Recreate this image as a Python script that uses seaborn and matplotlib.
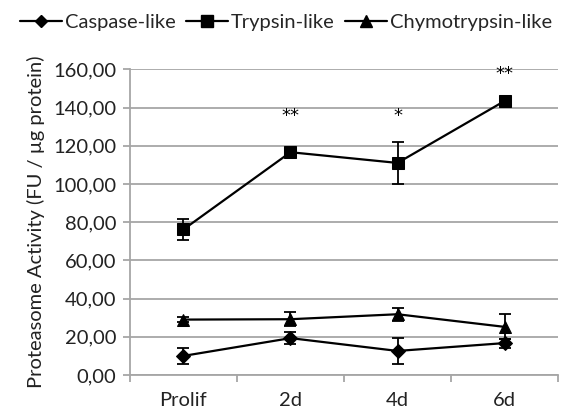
import numpy as np
import pandas as pd
import matplotlib
matplotlib.use('Agg')
import matplotlib.pyplot as plt
import seaborn as sns
from matplotlib.ticker import FixedLocator, FuncFormatter

# values
stages = ['Prolif', '2d', '4d', '6d']
caspase = [10.0, 19.3, 12.6, 16.7]
caspase_err = [4.2, 3.0, 6.6, 2.4]
trypsin = [76.2, 116.6, 111.0, 143.4]
trypsin_err = [5.6, 1.5, 10.8, 1.5]
chymo = [29.0, 29.2, 31.8, 25.2]
chymo_err = [1.5, 3.8, 3.5, 6.6]
stars = ['', '**', '*', '**']
star_y = [0, 135.5, 135.5, 157.5]

series = ['Caspase-like', 'Trypsin-like', 'Chymotrypsin-like']
vals = [caspase, trypsin, chymo]
errs = [caspase_err, trypsin_err, chymo_err]

x = np.arange(len(stages))
df = pd.DataFrame({
    'x': np.tile(x, 3),
    'value': caspase + trypsin + chymo,
    'series': np.repeat(series, len(stages)),
})

sns.set_style('white')
plt.rcParams['font.family'] = ['Lato', 'DejaVu Sans']

fs = 14.5
txt = '#222222'
fig = plt.figure(figsize=(5.61, 4.19), dpi=100)
ax = fig.add_axes([0.2317, 0.105, 0.763, 0.7296])

grid_col = '#a6a6a6'
for v, e in zip(vals, errs):
    ax.errorbar(x, v, yerr=e, fmt='none', ecolor='black', elinewidth=1.3,
                capsize=4.5, capthick=1.3, zorder=2)

markers = {'Caspase-like': 'D', 'Trypsin-like': 's', 'Chymotrypsin-like': '^'}
sizes = {'Caspase-like': 7, 'Trypsin-like': 9, 'Chymotrypsin-like': 9}
for name in series:
    sub = df[df['series'] == name]
    sns.lineplot(data=sub, x='x', y='value', ax=ax, color='black', linewidth=1.6,
                 marker=markers[name], markersize=sizes[name], markeredgecolor='black',
                 label=name, zorder=3, legend=False)

# significance marks
for xi, s, sy in zip(x, stars, star_y):
    if s:
        ax.text(xi, sy, s, ha='center', va='center', fontsize=13, color='black',
                family='DejaVu Sans')

ax.set_xlim(-0.5, len(stages) - 0.5)
ax.set_ylim(0, 160)
ax.set_yticks(np.arange(0, 161, 20))
ax.yaxis.set_major_formatter(FuncFormatter(lambda v, p: f'{v:.2f}'.replace('.', ',')))
ax.set_xticks(x)
ax.set_xticklabels(stages)
ax.xaxis.set_minor_locator(FixedLocator(np.append(x + 0.5, -0.5)))

ax.yaxis.grid(True, color=grid_col, linewidth=1.3)
ax.set_axisbelow(True)
for sp in ['top', 'right']:
    ax.spines[sp].set_visible(False)
for sp in ['left', 'bottom']:
    ax.spines[sp].set_color(grid_col)
    ax.spines[sp].set_linewidth(1.3)

ax.tick_params(axis='y', which='major', left=True, length=5, width=1.3, color=grid_col,
               labelsize=fs, labelcolor=txt, pad=5)
ax.tick_params(axis='x', which='major', bottom=False, length=0, labelsize=fs,
               labelcolor=txt, pad=12)
ax.tick_params(axis='x', which='minor', bottom=True, length=5, width=1.3, color=grid_col)

ax.set_xlabel('')
ax.set_ylabel('Proteasome Activity (FU / µg protein)', fontsize=fs, color=txt,
              labelpad=6)

handles = [plt.Line2D([], [], color='black', linewidth=1.6, marker=markers[n],
                      markersize=sizes[n] - 1) for n in series]
fig.legend(handles, series, loc='upper center', bbox_to_anchor=(0.51, 1.0), ncol=3,
           frameon=False, fontsize=fs, handlelength=2.1, handletextpad=0.15,
           columnspacing=0.5, borderaxespad=0.3)

fig.savefig('out.png', dpi=100)
